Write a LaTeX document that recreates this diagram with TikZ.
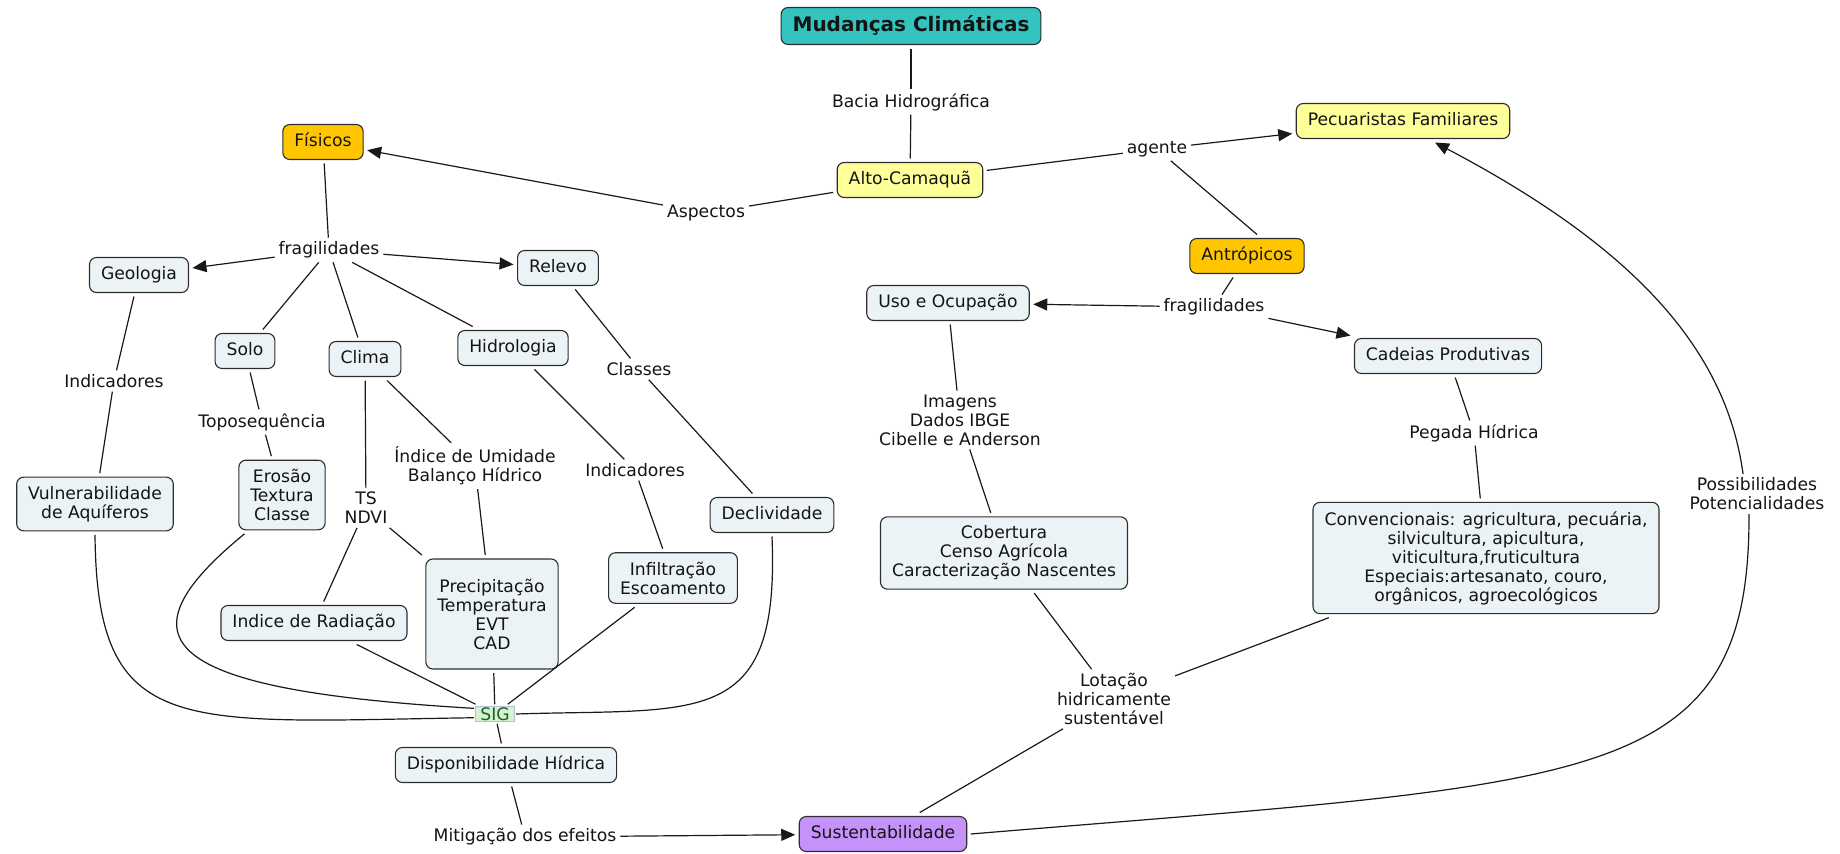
\documentclass[tikz,border=0pt]{standalone}
\usepackage{fontspec}
\setmainfont{DejaVu Sans}
\usepackage{xcolor}
\usepackage{tikz}
\usetikzlibrary{arrows.meta}
\definecolor{conceptbg}{RGB}{236, 243, 246}
\definecolor{conceptline}{RGB}{45, 45, 45}
\definecolor{inktext}{RGB}{20, 20, 20}
\definecolor{rootteal}{RGB}{52, 196, 192}
\definecolor{paleyellow}{RGB}{255, 255, 153}
\definecolor{amber}{RGB}{255, 198, 0}
\definecolor{lilac}{RGB}{197, 146, 250}
\definecolor{sigbg}{RGB}{214, 240, 214}
\definecolor{sigtext}{RGB}{20, 100, 30}
\definecolor{sigline}{RGB}{185, 190, 215}

\begin{document}
\begin{tikzpicture}[x=1pt, y=-1pt,
    font=\fontsize{17.2}{19}\selectfont,
    concept/.style={draw=conceptline, fill=conceptbg, text=inktext,
      line width=1.1pt, rounded corners=7pt, inner xsep=11.5pt,
      inner ysep=9pt, align=center, outer sep=4pt},
    oneline/.style={text height=13pt, text depth=4pt},
    phrase/.style={text=inktext, inner sep=3pt, align=center, outer sep=1pt},
    con/.style={line width=1.2pt, draw=black!90},
    arr/.style={con, -{Triangle[length=14pt, width=12pt]}}]

\useasboundingbox (0,0) rectangle (1840,854);

%% ── TOP: root and study area ─────────────────────────────────────────────────
\node[concept, oneline, fill=rootteal, font=\fontsize{20}{22}\selectfont\bfseries,
      text height=14.5pt, text depth=4.5pt] (mudancas) at (911,26)
  {Mudanças Climáticas};
\node[phrase] (bacia) at (911,102) {Bacia Hidrográfica};
\node[concept, oneline, fill=paleyellow] (alto) at (910,180) {Alto-Camaquã};
\node[phrase] (aspectos) at (706,213) {Aspectos};
\node[phrase] (agente) at (1157,149) {agente};
\node[concept, oneline, fill=paleyellow] (pecuaristas) at (1403,121)
  {Pecuaristas Familiares};
\node[concept, oneline, fill=amber] (antropicos) at (1247,256) {Antrópicos};
\node[concept, oneline, fill=amber] (fisicos) at (323,142) {Físicos};

\draw[con] (mudancas) -- (bacia);
\draw[con] (bacia) -- (alto);
\draw[con] (alto) -- (aspectos);
\draw[arr] (aspectos) -- (fisicos);
\draw[con] (alto) -- (agente);
\draw[arr] (agente) -- (pecuaristas);
\draw[con] (agente) -- ([xshift=10pt]antropicos.north);

%% ── LEFT: physical aspects ───────────────────────────────────────────────────
\node[phrase] (fragfis) at (329,250) {fragilidades};
\node[concept, oneline] (geologia) at (139,275) {Geologia};
\node[concept, oneline] (relevo) at (558,268) {Relevo};
\node[concept, oneline] (solo) at (245,351) {Solo};
\node[concept, oneline] (clima) at (365,359) {Clima};
\node[concept, oneline] (hidrologia) at (513,348) {Hidrologia};

\node[phrase] (indgeo) at (114,381) {Indicadores};
\node[phrase] (topo) at (262,422) {Toposequência};
\node[phrase] (classes) at (639,369) {Classes};
\node[phrase] (tsndvi) at (366,508) {TS\\NDVI};
\node[phrase] (umidade) at (475,466) {Índice de Umidade\\Balanço Hídrico};
\node[phrase] (indhid) at (635,470) {Indicadores};

\node[concept] (vulneravel) at (95,504) {Vulnerabilidade\\de Aquíferos};
\node[concept] (erosao) at (282,495) {Erosão\\Textura\\Classe};
\node[concept, oneline] (declive) at (772,515) {Declividade};
\node[concept] (infiltra) at (673,578) {Infiltração\\Escoamento};
\node[concept, minimum height=110pt] (precip) at (492,614)
  {Precipitação\\Temperatura\\EVT\\CAD};
\node[concept, oneline] (radiacao) at (314,623) {Indice de Radiação};

\draw[con] (fisicos) -- (fragfis);
\draw[arr] (fragfis) -- (geologia);
\draw[arr] (fragfis) -- (relevo);
\draw[con] (fragfis) -- (solo);
\draw[con] (fragfis) -- (clima);
\draw[con] (fragfis) -- (hidrologia);

\draw[con] (geologia) -- (indgeo);
\draw[con] (indgeo) -- (vulneravel);
\draw[con] (solo) -- (topo);
\draw[con] (topo) -- (erosao);
\draw[con] (relevo) -- (classes);
\draw[con] (classes) -- (declive);
\draw[con] (hidrologia) -- (indhid);
\draw[con] (indhid) -- (infiltra);
\draw[con] (clima) -- (tsndvi);
\draw[con] (tsndvi) -- (radiacao);
\draw[con] (tsndvi) -- (precip);
\draw[con] (clima) -- (umidade);
\draw[con] (umidade) -- (precip);

%% ── SIG and water availability ───────────────────────────────────────────────
\node[draw=sigline, fill=sigbg, text=sigtext, line width=0.8pt,
      inner xsep=4.5pt, inner ysep=1.5pt, text height=12.5pt,
      text depth=0pt, outer sep=2pt] (sig) at (495,714) {SIG};
\node[concept, oneline] (dispon) at (506,765) {Disponibilidade Hídrica};
\node[phrase] (mitiga) at (525,837) {Mitigação dos efeitos};
\node[concept, oneline, fill=lilac] (sustent) at (883,834) {Sustentabilidade};

% curved feeds into SIG
\draw[con] (vulneravel.south) .. controls (97,740) and (180,722) .. (sig.190);
\draw[con] (erosao.-134) .. controls (115,640) and (160,690) .. (sig.165);
\draw[con] (declive.south) .. controls (780,730) and (700,708) .. (sig.east);
\draw[con] (radiacao) -- (sig);
\draw[con] (precip) -- (sig);
\draw[con] (infiltra) -- (sig);

\draw[con] (sig) -- (dispon);
\draw[con] (dispon) -- (mitiga);
\draw[arr] (mitiga) -- (sustent);

%% ── RIGHT: anthropic aspects ─────────────────────────────────────────────────
\node[phrase] (fragant) at (1214,307) {fragilidades};
\node[concept, oneline] (uso) at (948,303) {Uso e Ocupação};
\node[concept, oneline] (cadeias) at (1448,356) {Cadeias Produtivas};
\node[phrase] (imagens) at (960,420) {Imagens\\Dados IBGE\\Cibelle e Anderson};
\node[phrase] (pegada) at (1474,433) {Pegada Hídrica};
\node[concept] (cobertura) at (1004,553)
  {Cobertura\\Censo Agrícola\\Caracterização Nascentes};
\node[concept] (convenc) at (1486,558)
  {Convencionais: agricultura, pecuária,\\silvicultura, apicultura,\\
   viticultura,fruticultura\\Especiais:artesanato, couro,\\
   orgânicos, agroecológicos};
\node[phrase] (lotacao) at (1114,699) {Lotação\\hidricamente\\sustentável};
\node[phrase] (possib) at (1757,494) {Possibilidades\\Potencialidades};

\draw[con] (antropicos) -- (fragant);
\draw[arr] (fragant) -- (uso);
\draw[arr] (fragant) -- (cadeias);
\draw[con] (uso) -- (imagens);
\draw[con] (imagens) -- (cobertura);
\draw[con] (cadeias) -- (pegada);
\draw[con] (pegada) -- (convenc);
\draw[con] (cobertura) -- (lotacao);
\draw[con] (convenc) -- (lotacao);
\draw[con] (lotacao) -- (sustent);

% long loop back to the farmers
\draw[con] (sustent.east) .. controls (1594,782) and (1750,790)
  .. ([xshift=-8pt]possib.south);
\draw[arr] ([xshift=-14pt]possib.north) .. controls (1725,340) and (1620,240)
  .. ([xshift=32pt]pecuaristas.south);

\end{tikzpicture}
\end{document}
